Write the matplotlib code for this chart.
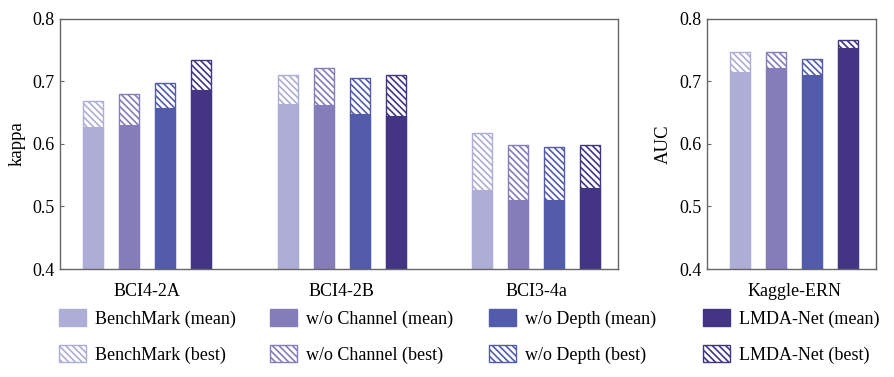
import numpy as np
import matplotlib
matplotlib.use('Agg')
import matplotlib.pyplot as plt
from matplotlib.patches import Patch

plt.rcParams['font.family'] = ['Liberation Serif', 'DejaVu Serif']
plt.rcParams['hatch.linewidth'] = 1.2

# data
datasets = ['BCI4-2A', 'BCI4-2B', 'BCI3-4a']
models = ['BenchMark', 'w/o Channel', 'w/o Depth', 'LMDA-Net']
colors = ['#adadd6', '#847dba', '#525caa', '#433584']

kappa_mean = [[0.627, 0.631, 0.658, 0.686],
              [0.664, 0.662, 0.648, 0.645],
              [0.527, 0.510, 0.510, 0.529]]
kappa_best = [[0.669, 0.680, 0.697, 0.734],
              [0.711, 0.721, 0.706, 0.710],
              [0.617, 0.599, 0.595, 0.598]]

ern_name = 'Kaggle-ERN'
auc_mean = [0.715, 0.722, 0.711, 0.753]
auc_best = [0.747, 0.747, 0.736, 0.766]

HATCH = '\\' * 5

W, H = 894, 377
fig = plt.figure(figsize=(W / 100, H / 100), dpi=100)
ax1 = fig.add_axes([60 / W, (H - 269) / H, 558 / W, 250 / H])
ax2 = fig.add_axes([707 / W, (H - 269) / H, 169 / W, 250 / H])

offs = np.array([-1.5, -0.5, 0.5, 1.5]) * 0.185
bw = 0.103


def draw(ax, centers, means, bests):
    for j in range(4):
        xs = centers + offs[j]
        m = [row[j] for row in means]
        b = [row[j] for row in bests]
        ax.bar(xs, b, bw, bottom=0, facecolor='white', edgecolor=colors[j],
               hatch=HATCH, linewidth=1.0)
        ax.bar(xs, m, bw, bottom=0, color=colors[j], edgecolor=colors[j], linewidth=0.8)


draw(ax1, np.arange(3), kappa_mean, kappa_best)
draw(ax2, np.array([0]), [auc_mean], [auc_best])

ax1.set_xlim(-0.447, 2.42)
ax2.set_xlim(-0.447, 0.42)
for ax, lab in ((ax1, 'kappa'), (ax2, 'AUC')):
    ax.set_ylim(0.4, 0.8)
    ax.set_yticks([0.4, 0.5, 0.6, 0.7, 0.8])
    ax.set_yticklabels(['0.4', '0.5', '0.6', '0.7', '0.8'])
    ax.tick_params(axis='y', labelsize=13, direction='in', length=3, color='#666666', pad=4)
    ax.tick_params(axis='x', labelsize=13, length=0, pad=10)
    ax.set_ylabel(lab, fontsize=13.5, labelpad=5)
    for s in ax.spines.values():
        s.set_color('#666666')
        s.set_linewidth(1.0)
ax1.set_xticks(np.arange(3))
ax1.set_xticklabels(datasets)
ax2.set_xticks([0])
ax2.set_xticklabels([ern_name])

# legend, one column per model
col_x = [59, 270, 489, 703]
for j in range(4):
    hs = [Patch(facecolor=colors[j], edgecolor=colors[j], label=models[j] + ' (mean)'),
          Patch(facecolor='white', edgecolor=colors[j], hatch=HATCH, label=models[j] + ' (best)')]
    fig.legend(handles=hs, loc='upper left', bbox_to_anchor=(col_x[j] / W, 1 - 309 / H),
               frameon=False, fontsize=13, handlelength=1.5, handleheight=1.05,
               handletextpad=0.5, labelspacing=0.98, borderpad=0, borderaxespad=0)

fig.savefig('out.png', dpi=100)
